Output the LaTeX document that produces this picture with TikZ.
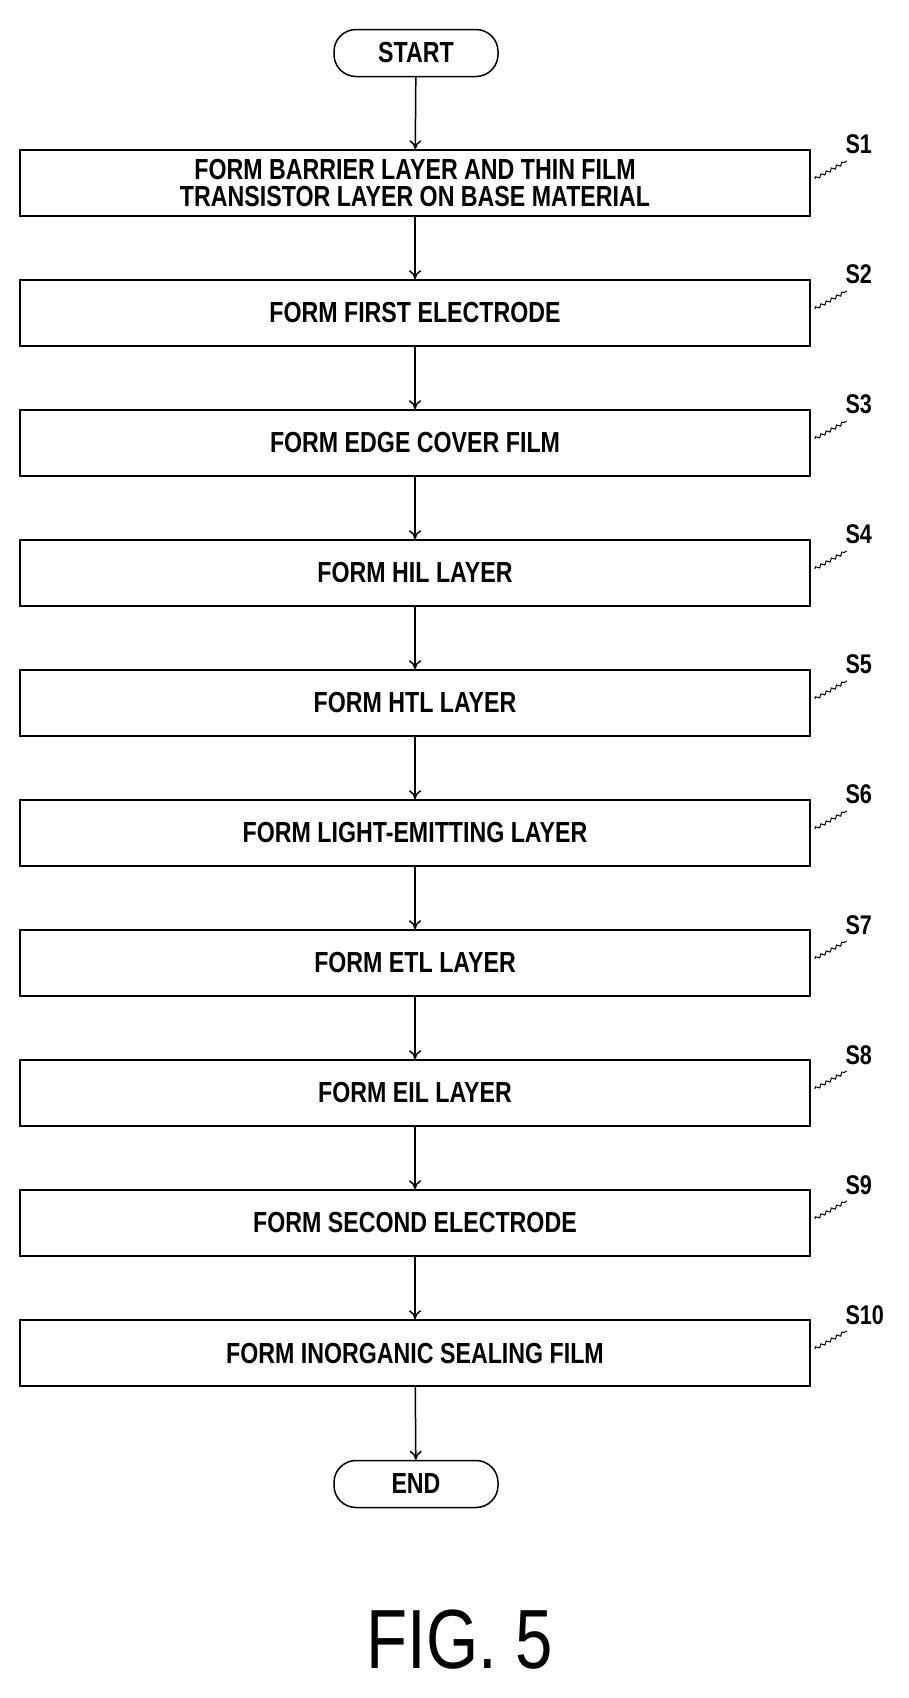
\documentclass[tikz,border=0pt]{standalone}
\usepackage{fontspec}
\setmainfont{Liberation Sans}
\usetikzlibrary{decorations.pathmorphing,arrows.meta}
\tikzset{every picture/.style={line width=1.5pt}}
\newcommand{\nar}[1]{\scalebox{0.8}[1]{#1}}
\tikzset{
  stepbox/.style={draw, minimum width=790pt, minimum height=66pt, inner sep=0pt, align=center, font=\fontsize{29}{31}\selectfont\bfseries},
  term/.style={draw, rounded corners=22pt, minimum width=164pt, minimum height=47pt, inner sep=0pt, font=\fontsize{29}{31}\selectfont\bfseries},
  flow/.style={-{To[length=9pt,width=12pt]}},
  lead/.style={line width=1pt, decorate, decoration={snake, amplitude=1.5pt, segment length=6pt}},
  tag/.style={anchor=south west, inner sep=0pt, font=\fontsize{27}{29}\selectfont\bfseries}
}
\begin{document}
\begin{tikzpicture}[x=1pt,y=1pt,yscale=-1]
\useasboundingbox (0,0) rectangle (909,1698);

% terminals
\node[term] (start) at (416,53) {\nar{START}};
\node[term] (end) at (416,1484) {\nar{END}};

% process steps
\node[stepbox] (s1) at (415,183) {\nar{FORM BARRIER LAYER AND THIN FILM}\\[-4pt]\nar{TRANSISTOR LAYER ON BASE MATERIAL}};
\node[stepbox] (s2) at (415,313) {\nar{FORM FIRST ELECTRODE}};
\node[stepbox] (s3) at (415,443) {\nar{FORM EDGE COVER FILM}};
\node[stepbox] (s4) at (415,573) {\nar{FORM HIL LAYER}};
\node[stepbox] (s5) at (415,703) {\nar{FORM HTL LAYER}};
\node[stepbox] (s6) at (415,833) {\nar{FORM LIGHT-EMITTING LAYER}};
\node[stepbox] (s7) at (415,963) {\nar{FORM ETL LAYER}};
\node[stepbox] (s8) at (415,1093) {\nar{FORM EIL LAYER}};
\node[stepbox] (s9) at (415,1223) {\nar{FORM SECOND ELECTRODE}};
\node[stepbox] (s10) at (415,1353) {\nar{FORM INORGANIC SEALING FILM}};

% connectors
\draw[flow] (start) -- (s1);
\foreach \a/\b in {s1/s2,s2/s3,s3/s4,s4/s5,s5/s6,s6/s7,s7/s8,s8/s9,s9/s10,s10/end}
  \draw[flow] (\a) -- (\b);

% step labels
\foreach \s/\t in {s1/S1,s2/S2,s3/S3,s4/S4,s5/S5,s6/S6,s7/S7,s8/S8,s9/S9,s10/S10} {
  \coordinate (\s l) at ([xshift=4pt,yshift=-4pt]\s.east);
  \coordinate (\s t) at ([xshift=36pt,yshift=-22pt]\s.east);
  \draw[lead] (\s l) -- (\s t);
  \node[tag] (\s n) at ([xshift=-2pt,yshift=-6pt]\s t) {\nar{\t}};
}

% caption
\node[font=\fontsize{84}{86}\selectfont] (fig) at (460,1640) {\nar{FIG. 5}};
\end{tikzpicture}
\end{document}
